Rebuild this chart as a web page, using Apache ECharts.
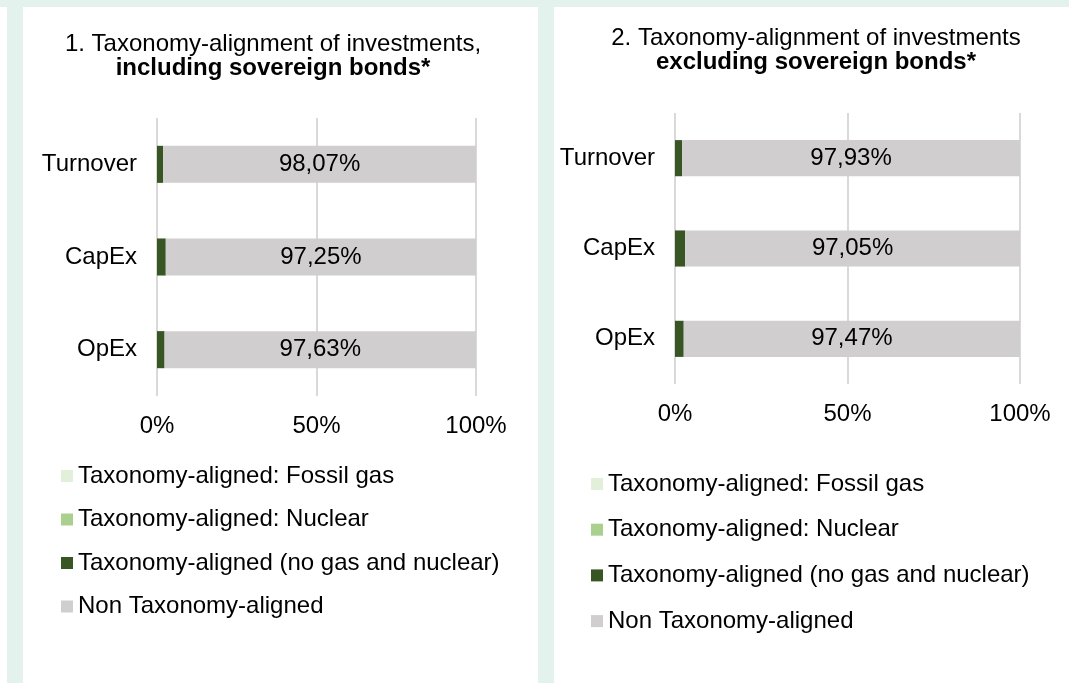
<!DOCTYPE html>
<html>
<head>
<meta charset="utf-8">
<script src="https://cdn.jsdelivr.net/npm/echarts@6/dist/echarts.min.js"></script>
<style>
  html, body { margin: 0; padding: 0; background: #fff; }
  #chart { width: 1069px; height: 683px; }
</style>
</head>
<body>
<div id="chart"></div>
<script>
// categories and values
const categories = ['Turnover', 'CapEx', 'OpEx'];
const seriesNames = [
  'Taxonomy-aligned: Fossil gas',
  'Taxonomy-aligned: Nuclear',
  'Taxonomy-aligned (no gas and nuclear)',
  'Non Taxonomy-aligned'
];
const xTicks = ['0%', '50%', '100%'];

// chart 1: including sovereign bonds
const gasIncl = [0, 0, 0];
const nuclearIncl = [0, 0, 0];
const alignedIncl = [1.93, 2.75, 2.37];
const nonAlignedIncl = [98.07, 97.25, 97.63];

// chart 2: excluding sovereign bonds
const gasExcl = [0, 0, 0];
const nuclearExcl = [0, 0, 0];
const alignedExcl = [2.07, 2.95, 2.53];
const nonAlignedExcl = [97.93, 97.05, 97.47];

const colors = ['#e2efda', '#a9d08e', '#375623', '#d0cece'];
const mint = '#e3f2ec';
const font = 'Liberation Sans, Arial, sans-serif';
const fs = 24;

function xAxisFor(grid) {
  return {
    type: 'value', gridIndex: grid, min: 0, max: 100, interval: 50,
    axisLine: { show: false }, axisTick: { show: false },
    splitLine: { lineStyle: { color: '#d9d9d9', width: 2 } },
    axisLabel: {
      margin: 18, color: '#000', fontSize: fs, fontFamily: font,
      formatter: v => xTicks[v / 50]
    }
  };
}
function yAxisFor(grid) {
  return {
    type: 'category', gridIndex: grid, data: categories, inverse: true,
    axisLine: { show: false }, axisTick: { show: false },
    axisLabel: { margin: 20, color: '#000', fontSize: fs, fontFamily: font }
  };
}
function seriesFor(grid, lists) {
  return lists.map((data, i) => ({
    name: seriesNames[i],
    type: 'bar',
    stack: 'total' + grid,
    xAxisIndex: grid, yAxisIndex: grid,
    barWidth: '40%',
    itemStyle: { color: colors[i] },
    label: {
      show: i === 3, position: 'inside', color: '#000',
      fontSize: fs, fontFamily: font,
      formatter: p => p.value.toFixed(2).replace('.', ',') + '%'
    },
    data: data
  }));
}
function legendFor(left, top, gap) {
  return {
    orient: 'vertical', left: left, top: top, padding: 0,
    itemWidth: 12, itemHeight: 12, itemGap: gap,
    icon: 'rect',
    data: seriesNames,
    textStyle: { color: '#000', fontSize: fs, lineHeight: 24, fontFamily: font }
  };
}
function titleFor(text, x, y) {
  return {
    text: text, left: x, top: y, textAlign: 'center',
    textStyle: {
      fontSize: fs, fontWeight: 'normal', color: '#000', lineHeight: 24, fontFamily: font,
      rich: { b: { fontSize: fs, fontWeight: 'bold', lineHeight: 24, fontFamily: font } }
    }
  };
}

const chart = echarts.init(document.getElementById('chart'));
chart.setOption({
  animation: false,
  graphic: [
    { type: 'rect', shape: { x: 0, y: 0, width: 1069, height: 7 }, style: { fill: mint } },
    { type: 'rect', shape: { x: 7, y: 0, width: 16, height: 683 }, style: { fill: mint } },
    { type: 'rect', shape: { x: 538, y: 0, width: 16, height: 683 }, style: { fill: mint } }
  ],
  title: [
    titleFor('1. Taxonomy-alignment of investments,\n{b|including sovereign bonds*}', 268, 27),
    titleFor('2. Taxonomy-alignment of investments\n{b|excluding sovereign bonds*}', 811, 21)
  ],
  legend: [legendFor(61, 464, 19.5), legendFor(591, 472, 21.7)],
  grid: [
    { left: 157, top: 118, width: 319, height: 278 },
    { left: 675, top: 113, width: 345, height: 271 }
  ],
  xAxis: [xAxisFor(0), xAxisFor(1)],
  yAxis: [yAxisFor(0), yAxisFor(1)],
  series: [
    ...seriesFor(0, [gasIncl, nuclearIncl, alignedIncl, nonAlignedIncl]),
    ...seriesFor(1, [gasExcl, nuclearExcl, alignedExcl, nonAlignedExcl])
  ]
});
</script>
</body>
</html>
